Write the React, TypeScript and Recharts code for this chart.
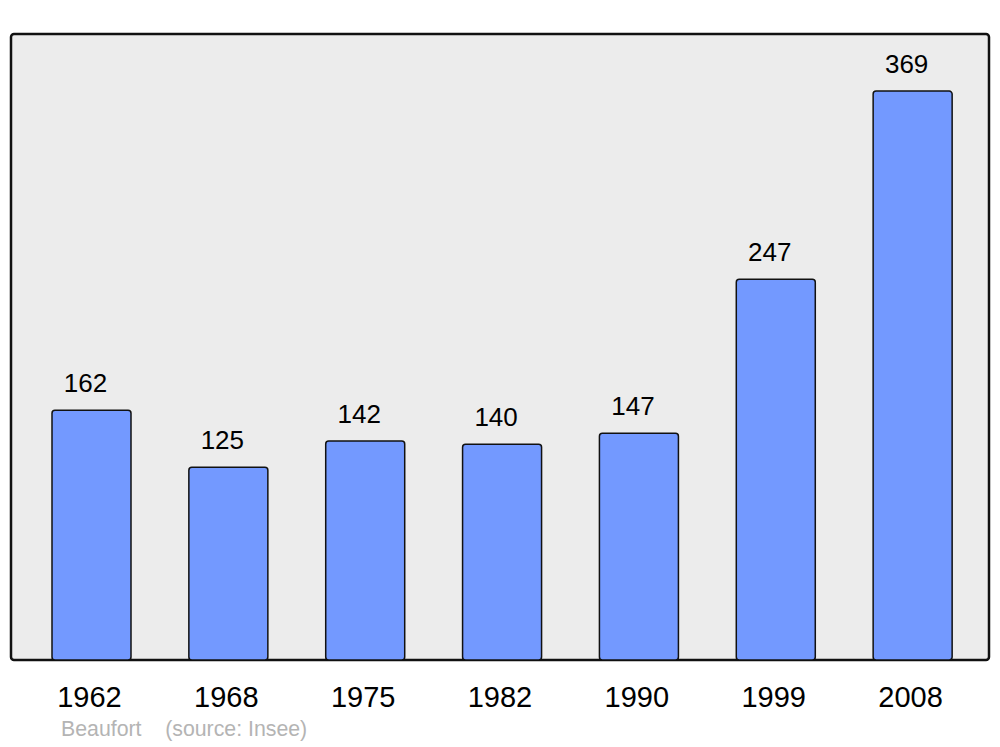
import React from 'react';
import { BarChart, Bar, XAxis, YAxis, LabelList, usePlotArea } from 'recharts';

const years = ['1962', '1968', '1975', '1982', '1990', '1999', '2008'];
const population = [162, 125, 142, 140, 147, 247, 369];
const yMax = 406;

const data = years.map((y, i) => ({ year: y, pop: population[i] }));

const Panel = () => {
  const area = usePlotArea();
  if (!area) return null;
  return (
    <rect
      x={area.x}
      y={area.y}
      width={area.width}
      height={area.height}
      rx={3}
      ry={3}
      fill="#ececec"
      stroke="#111111"
      strokeWidth={2.5}
    />
  );
};

const Tick = (props: any) => {
  const { x, y, payload } = props;
  return (
    <text x={x - 2} y={y + 45} textAnchor="middle" fontSize={29} fill="#000" fontFamily="Liberation Sans, Arial, sans-serif">
      {payload.value}
    </text>
  );
};

const ValueLabel = (props: any) => {
  const { x, y, width, value } = props;
  return (
    <text x={x + width / 2 - 6} y={y - 18} textAnchor="middle" fontSize={26} fill="#000" fontFamily="Liberation Sans, Arial, sans-serif">
      {value}
    </text>
  );
};

export default function App() {
  return (
    <div style={{ position: 'absolute', left: 0, top: 0, width: 1000, height: 747, background: '#fff' }}>
      <BarChart width={1000} height={747} data={data} margin={{ top: 34, right: 11, bottom: 0, left: 11 }}>
        <Panel />
        <XAxis
          dataKey="year"
          axisLine={false}
          tickLine={false}
          tickSize={0}
          tick={<Tick />}
          padding={{ left: 12, right: 8 }}
          height={87}
          interval={0}
        />
        <YAxis hide domain={[0, yMax]} />
        <Bar dataKey="pop" fill="#7399ff" stroke="#111111" strokeWidth={1.5} radius={3} barSize={79} isAnimationActive={false}>
          <LabelList dataKey="pop" content={<ValueLabel />} />
        </Bar>
      </BarChart>
      <div
        style={{
          position: 'absolute',
          left: 61,
          top: 716,
          fontFamily: 'Liberation Sans, Arial, sans-serif',
          fontSize: 21.3,
          color: '#b4b4b4',
          whiteSpace: 'pre',
          lineHeight: '26px',
        }}
      >
        {'Beaufort    (source: Insee)'}
      </div>
    </div>
  );
}
